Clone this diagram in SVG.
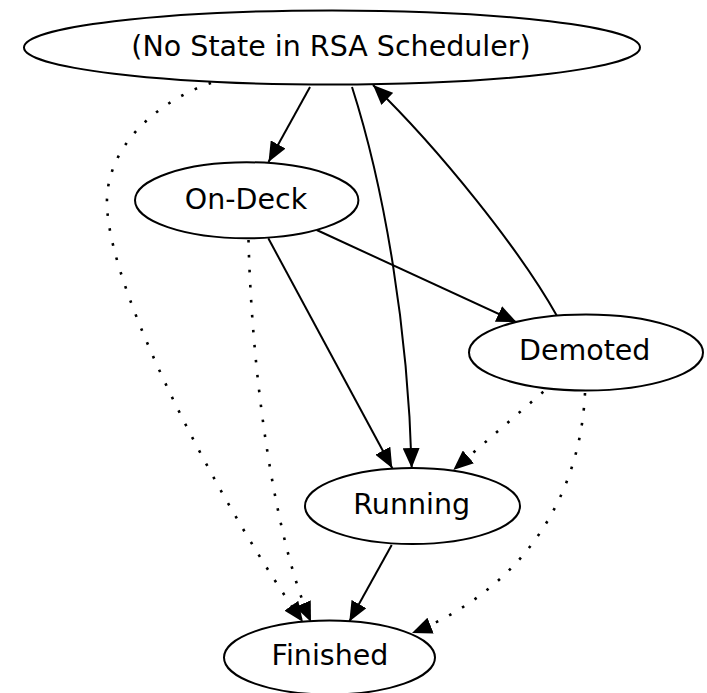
<svg xmlns="http://www.w3.org/2000/svg" width="707" height="693" viewBox="0 0 707 693">
<defs>
<style>
.node ellipse{fill:#fff;stroke:#000;stroke-width:2}
.node text{font-family:"DejaVu Sans",sans-serif;font-size:28.5px;text-anchor:middle;fill:#000}
.edge{fill:none;stroke:#000;stroke-width:2;marker-end:url(#arrow)}
.dot{stroke-width:2.6;stroke-dasharray:2.6 12.4;stroke-linecap:butt}
</style>
<marker id="arrow" markerUnits="userSpaceOnUse" markerWidth="21" markerHeight="17" refX="20" refY="8.5" orient="auto">
<path d="M0,0 L20,8.5 L0,17 z" fill="#000"/>
</marker>
</defs>
<rect width="707" height="693" fill="#fff"/>
<g id="edges">
<path class="edge" d="M310,87 L268.5,162"/>
<path class="edge" d="M352,87 C385,190 408,330 411.7,468"/>
<path class="edge" d="M557,316 C520,250 440,150 373,85"/>
<path class="edge" d="M316.7,230 L516.7,322.3"/>
<path class="edge" d="M268.3,238.3 L392.3,468.3"/>
<path class="edge dot" d="M248.5,240 C252,380 275,540 311,622"/>
<path class="edge dot" d="M211,83 C160,100 105,145 107,205 C110,300 230,520 303,622"/>
<path class="edge dot" d="M543.3,391.7 L453.3,470"/>
<path class="edge dot" d="M585,393 C580,500 520,590 412,633"/>
<path class="edge" d="M391.7,545 L349.3,621.5"/>
</g>
<g id="node-none" class="node">
<ellipse cx="332" cy="47.5" rx="308" ry="37"/>
<text x="331" y="55.5">(No State in RSA Scheduler)</text>
</g>
<g id="node-ondeck" class="node">
<ellipse cx="246.7" cy="200.3" rx="111.7" ry="38"/>
<text x="246" y="208.5">On-Deck</text>
</g>
<g id="node-demoted" class="node">
<ellipse cx="586" cy="352.5" rx="117" ry="38"/>
<text x="584.7" y="360">Demoted</text>
</g>
<g id="node-running" class="node">
<ellipse cx="412.5" cy="506" rx="107.5" ry="38"/>
<text x="411.7" y="513.5">Running</text>
</g>
<g id="node-finished" class="node">
<ellipse cx="329.5" cy="657.5" rx="105.5" ry="37"/>
<text x="330" y="665">Finished</text>
</g>
</svg>
